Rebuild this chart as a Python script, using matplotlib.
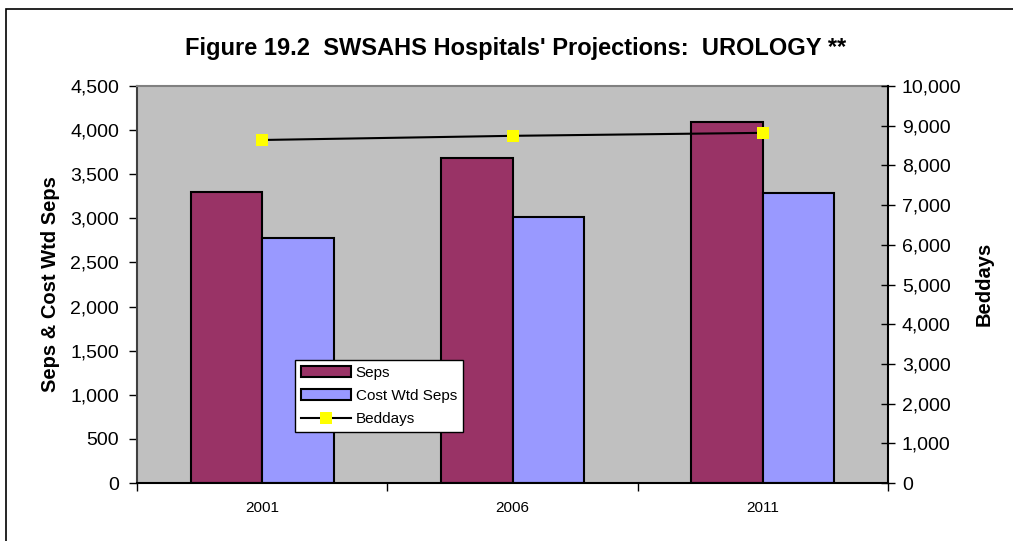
import matplotlib
matplotlib.use('Agg')
import matplotlib.pyplot as plt
from matplotlib.patches import Rectangle
from matplotlib.ticker import FuncFormatter, FixedLocator

# data
years = ['2001', '2006', '2011']
seps = [3300, 3685, 4090]
cost_wtd_seps = [2772, 3015, 3282]
beddays = [8640, 8745, 8820]

plt.rcParams['font.family'] = ['Liberation Sans', 'DejaVu Sans']

W, H = 1013, 541
fig = plt.figure(figsize=(W / 100, H / 100), dpi=100)

# plot area in pixels: x 137..888, y 86..483
ax = fig.add_axes([137 / W, 1 - 483 / H, (888 - 137) / W, (483 - 86) / H])
ax.set_facecolor('#C0C0C0')

x = list(range(len(years)))
bw = 1 / 3.5
ax.bar([i - bw / 2 for i in x], seps, bw, color='#993366', edgecolor='black',
       linewidth=1.5, label='Seps', zorder=2)
ax.bar([i + bw / 2 for i in x], cost_wtd_seps, bw, color='#9999FF', edgecolor='black',
       linewidth=1.5, label='Cost Wtd Seps', zorder=2)

ax.set_xlim(-0.5, len(years) - 0.5)
ax.set_ylim(0, 4500)
ax.set_yticks(range(0, 4501, 500))
ax.yaxis.set_major_formatter(FuncFormatter(lambda v, p: f'{int(v):,}'))
ax.tick_params(axis='y', direction='out', length=6, width=1, labelsize=14, pad=7)

ax.set_xticks(x)
ax.set_xticklabels(years)
ax.tick_params(axis='x', which='major', length=0, labelsize=11, pad=13)
ax.xaxis.set_minor_locator(FixedLocator([-0.5, 0.5, 1.5, 2.5]))
ax.tick_params(axis='x', which='minor', direction='out', length=6, width=1)

ax.spines['top'].set_color('#808080')
ax.spines['top'].set_linewidth(1.5)
ax.spines['left'].set_color('#404040')
ax.spines['left'].set_linewidth(1.5)
ax.spines['bottom'].set_linewidth(1.5)
ax.spines['right'].set_visible(False)

ax2 = ax.twinx()
ax2.plot(x, beddays, color='black', linewidth=1.5, marker='s', markersize=8.5,
         markerfacecolor='#FFFF00', markeredgewidth=0, label='Beddays', zorder=3)
ax2.set_ylim(0, 10000)
ax2.set_yticks(range(0, 10001, 1000))
ax2.yaxis.set_major_formatter(FuncFormatter(lambda v, p: f'{int(v):,}'))
ax2.tick_params(axis='y', direction='inout', length=10, width=1, labelsize=14, pad=5)
for s in ['top', 'left', 'bottom']:
    ax2.spines[s].set_visible(False)
ax2.spines['right'].set_linewidth(1.5)

h1, l1 = ax.get_legend_handles_labels()
h2, l2 = ax2.get_legend_handles_labels()
leg = ax2.legend(h1 + h2, l1 + l2, loc='lower left', bbox_to_anchor=(0.21, 0.128),
                 fontsize=11, frameon=True, fancybox=False, framealpha=1,
                 edgecolor='black', borderpad=0.4, labelspacing=0.6,
                 handlelength=3.3, handletextpad=0.3, borderaxespad=0)
leg.get_frame().set_linewidth(1)

fig.text(516 / W, 1 - 48.5 / H, "Figure 19.2  SWSAHS Hospitals' Projections:  UROLOGY **",
         ha='center', va='center', fontsize=17, fontweight='bold')
fig.text(50 / W, 1 - 284 / H, 'Seps & Cost Wtd Seps', rotation=90,
         ha='center', va='center', fontsize=14.5, fontweight='bold')
fig.text(984 / W, 1 - 284 / H, 'Beddays', rotation=90,
         ha='center', va='center', fontsize=14.5, fontweight='bold')

# outer chart frame
fig.patches.append(Rectangle((6 / W, -0.1), 1.2, 1 - 9 / H + 0.1, transform=fig.transFigure,
                             fill=False, edgecolor='black', linewidth=1.2))

fig.savefig('out.png', dpi=100)
